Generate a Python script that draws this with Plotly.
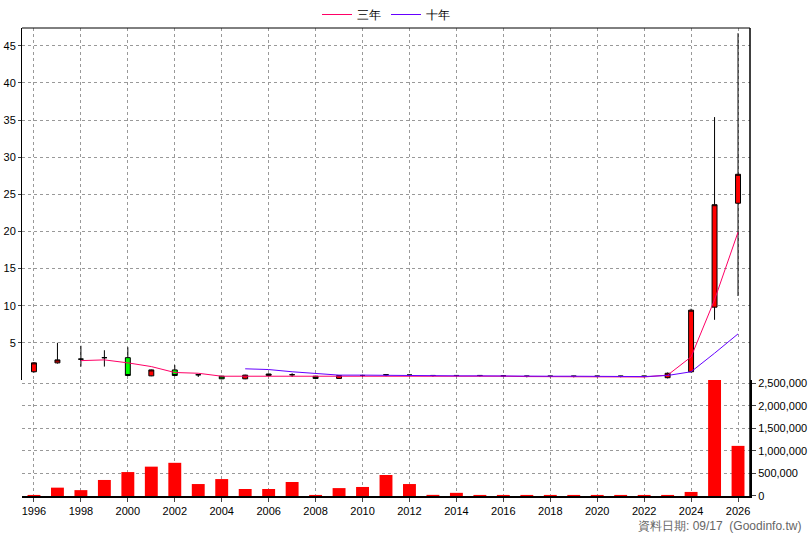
import plotly.graph_objects as go

years = list(range(1996, 2027))
opens  = [1.1,2.3,2.8,3.0,3.0,0.55,1.35,0.7,0.5,0.15,0.6,0.7,0.5,0.2,0.6,0.7,0.65,0.6,0.6,0.6,0.55,0.5,0.5,0.5,0.5,0.5,0.5,0.3,1.1,9.8,23.8]
closes = [2.3,2.7,2.8,3.0,0.6,1.35,0.6,0.7,0.15,0.65,0.8,0.7,0.2,0.6,0.6,0.7,0.65,0.6,0.6,0.6,0.55,0.5,0.5,0.5,0.5,0.5,0.5,0.9,9.4,23.6,27.7]
highs  = [2.4,5.0,4.6,4.0,4.4,1.4,2.0,0.8,0.55,0.7,0.85,0.9,0.55,0.65,0.7,0.8,0.7,0.65,0.65,0.65,0.6,0.55,0.55,0.55,0.55,0.55,0.55,1.0,9.6,35.4,46.7]
lows   = [1.0,2.2,1.8,1.8,0.5,0.5,0.5,0.4,0.1,0.1,0.5,0.4,0.1,0.15,0.4,0.5,0.5,0.45,0.45,0.45,0.4,0.35,0.35,0.35,0.35,0.35,0.35,0.2,1.0,8.1,11.3]
ma3_years = list(range(1998, 2027))
ma3 = [2.6,2.7,2.3,1.8,1.0,0.9,0.5,0.5,0.6,0.6,0.5,0.5,0.55,0.6,0.6,0.6,0.55,0.55,0.5,0.45,0.45,0.45,0.45,0.45,0.4,0.65,3.1,10.8,19.9]
ma10_years = list(range(2005, 2027))
ma10 = [1.5,1.4,1.1,0.9,0.65,0.65,0.6,0.6,0.6,0.55,0.55,0.5,0.5,0.5,0.5,0.5,0.5,0.45,0.6,1.1,3.6,6.2]
volume = [20000,185000,130000,355000,530000,650000,735000,265000,375000,155000,155000,310000,20000,175000,200000,465000,265000,25000,70000,5000,5000,2000,2000,5000,5000,5000,5000,5000,90000,2590000,1110000]

price_ticks = [5,10,15,20,25,30,35,40,45]
vol_ticks = [0,500000,1000000,1500000,2000000,2500000]
x_ticks = list(range(1996, 2027, 2))

font = dict(family="Liberation Sans, Arial, sans-serif", size=11, color="black")
fig = go.Figure()
fig.add_trace(go.Bar(x=years, y=volume, yaxis="y2", width=0.55,
                     marker=dict(color="#FF0000", line=dict(width=0)), showlegend=False))
fig.add_trace(go.Candlestick(x=years, open=opens, high=highs, low=lows, close=closes,
    increasing=dict(line=dict(color="black", width=1), fillcolor="#FF0000"),
    decreasing=dict(line=dict(color="black", width=1), fillcolor="#00FF00"),
    whiskerwidth=0, showlegend=False))
fig.add_trace(go.Scatter(x=ma3_years, y=ma3, mode="lines", name="三年",
                         line=dict(color="#FF0066", width=1)))
fig.add_trace(go.Scatter(x=ma10_years, y=ma10, mode="lines", name="十年",
                         line=dict(color="#6600FF", width=1)))

grid = dict(showgrid=True, gridcolor="#999999", griddash="3px,3px", gridwidth=1)
fig.update_layout(
    width=808, height=540, margin=dict(l=22, r=58, t=28, b=44, autoexpand=False),
    paper_bgcolor="white", plot_bgcolor="white", font=font,
    legend=dict(orientation="h", x=0.5, xanchor="center", yref="container", y=1.0, yanchor="top",
                font=dict(size=12), bgcolor="rgba(0,0,0,0)"),
    xaxis=dict(range=[1995.49, 2026.51], tickvals=x_ticks, ticks="outside", ticklen=4,
               anchor="y2", showline=True, linecolor="black", linewidth=2,
               rangeslider=dict(visible=False), **grid),
    yaxis=dict(domain=[0.248, 1], range=[0, 47.4], tickvals=price_ticks, ticks="outside",
               ticklen=3, showline=True, linecolor="black", linewidth=1, zeroline=False, **grid),
    yaxis2=dict(domain=[0, 0.248], range=[0, 2570000], tickvals=vol_ticks, side="right",
                tickformat=",d", ticks="outside", ticklen=4, showline=True, linecolor="black",
                linewidth=2, zeroline=False, **grid),
    bargap=0.4, boxgap=0.7,
)
fig.add_shape(type="line", xref="paper", yref="paper", x0=0, x1=1, y0=1, y1=1,
              line=dict(color="black", width=1))
fig.add_shape(type="line", xref="paper", yref="paper", x0=1, x1=1, y0=0, y1=1,
              line=dict(color="black", width=1.5))
fig.add_annotation(text="資料日期: 09/17  (Goodinfo.tw)", xref="paper", yref="paper",
                   x=1.073, y=-0.065, xanchor="right", yanchor="middle", showarrow=False,
                   font=dict(size=12, color="#666666"))
fig.write_html("out.html", post_script="document.body.style.margin='0';",
               config={"displayModeBar": False})
